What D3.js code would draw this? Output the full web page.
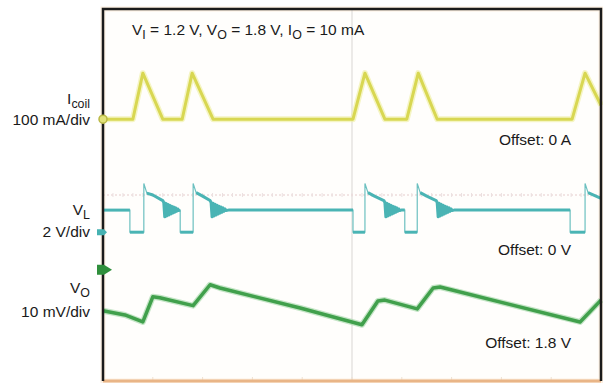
<!DOCTYPE html>
<html>
<head>
<meta charset="utf-8">
<script src="https://cdn.jsdelivr.net/npm/d3@7"></script>
<style>
  body { margin: 0; background: #fff; }
  text { font-family: "Liberation Sans", Arial, sans-serif; fill: #1a1a1a; }
</style>
</head>
<body>
<script>
// time in scope divisions (10 across), values in channel units
var iCoil = [ // [div, mA]
  [0, 0], [0.60, 0], [0.80, 99], [1.20, 0], [1.59, 0], [1.79, 99], [2.21, 0],
  [5.02, 0], [5.26, 99], [5.66, 0], [6.10, 0], [6.33, 99], [6.71, 0],
  [9.42, 0], [9.68, 99], [10, 30]
];

var vL = [ // [div, V]
  [0, 0.95], [0.54, 0.95], [0.54, 0], [0.82, 0], [0.82, 2.1], [0.88, 1.68], [1.0, 1.6], [1.20, 1.36],
  [1.22, 1.28], [1.24, 0.66], [1.26, 1.24], [1.28, 0.70], [1.30, 1.20], [1.32, 0.74], [1.34, 1.16], [1.36, 0.78],
  [1.38, 1.12], [1.40, 0.82], [1.42, 1.08], [1.44, 0.86], [1.46, 1.04], [1.48, 0.90], [1.50, 1.00], [1.52, 0.93], [1.55, 0.95],
  [1.55, 0], [1.81, 0], [1.81, 2.1], [1.87, 1.7], [2.0, 1.55], [2.15, 1.36],
  [2.17, 1.28], [2.19, 0.66], [2.21, 1.24], [2.23, 0.70], [2.25, 1.20], [2.27, 0.74], [2.29, 1.16], [2.31, 0.78],
  [2.33, 1.12], [2.35, 0.82], [2.37, 1.08], [2.39, 0.86], [2.41, 1.04], [2.43, 0.90], [2.45, 1.00], [2.47, 0.93], [2.52, 0.95],
  [5.02, 0.95], [5.02, 0], [5.26, 0], [5.26, 2.1], [5.32, 1.7], [5.45, 1.55], [5.64, 1.36],
  [5.66, 1.28], [5.68, 0.66], [5.70, 1.24], [5.72, 0.70], [5.74, 1.20], [5.76, 0.74], [5.78, 1.16], [5.80, 0.78],
  [5.82, 1.12], [5.84, 0.82], [5.86, 1.08], [5.88, 0.86], [5.90, 1.04], [5.92, 0.90], [5.94, 1.00], [5.96, 0.93], [5.99, 0.95],
  [6.06, 0.95], [6.06, 0], [6.31, 0], [6.31, 2.1], [6.37, 1.7], [6.5, 1.55], [6.69, 1.36],
  [6.71, 1.28], [6.73, 0.66], [6.75, 1.24], [6.77, 0.70], [6.79, 1.20], [6.81, 0.74], [6.83, 1.16], [6.85, 0.78],
  [6.87, 1.12], [6.89, 0.82], [6.91, 1.08], [6.93, 0.86], [6.95, 1.04], [6.97, 0.90], [6.99, 1.00], [7.01, 0.93], [7.05, 0.95],
  [9.38, 0.95], [9.38, 0], [9.68, 0], [9.68, 2.1], [9.74, 1.7], [10, 1.46]
];

var vO = [ // [div, mV around the 1.8 V offset]
  [0, -8.8], [0.44, -9.7], [0.80, -11.2], [1.0, -5.8], [1.14, -6.0], [1.81, -7.7],
  [2.15, -3.2], [2.35, -3.9], [3.96, -8.2], [5.20, -11.8], [5.52, -6.7], [5.66, -6.5],
  [6.31, -8.4], [6.63, -3.9], [6.77, -3.7], [9.58, -11.2], [10, -6.5]
];

var labelsLeft = [
  { main: "I", sub: "coil", y: 1.95 },
  { main: "100 mA/div", sub: "", y: 1.50 },
  { main: "V", sub: "L", y: -0.43 },
  { main: "2 V/div", sub: "", y: -0.91 },
  { main: "V", sub: "O", y: -2.11 },
  { main: "10 mV/div", sub: "", y: -2.62 }
];
var offsets = [
  { text: "Offset: 0 A", y: 1.08 },
  { text: "Offset: 0 V", y: -1.29 },
  { text: "Offset: 1.8 V", y: -3.28 }
];

var W = 603, H = 383;
var svg = d3.select("body").append("svg").attr("width", W).attr("height", H);

var x = d3.scaleLinear().domain([0, 10]).range([103, 601]);
var y = d3.scaleLinear().domain([-4, 4]).range([381, 9]);

// channel scales: reference position (div) and units per div
var yI = d3.scaleLinear().domain([0, 100]).range([y(1.63), y(2.63)]);
var yV = d3.scaleLinear().domain([0, 2]).range([y(-0.80), y(0.20)]);
var yO = d3.scaleLinear().domain([0, 10]).range([y(-1.61), y(-0.61)]);

// screen
svg.append("rect")
  .attr("x", x(0)).attr("y", y(4))
  .attr("width", x(10) - x(0)).attr("height", y(-4) - y(4))
  .attr("fill", "#fffefc")
  .attr("stroke", "#fdf0e2").attr("stroke-width", 5);

// graticule center lines
svg.append("line")
  .attr("x1", x(5)).attr("x2", x(5)).attr("y1", y(4)).attr("y2", y(-4))
  .attr("stroke", "#d9d6d3").attr("stroke-width", 1);
svg.append("line")
  .attr("x1", x(0)).attr("x2", x(10)).attr("y1", y(0)).attr("y2", y(0))
  .attr("stroke", "#e6cccc").attr("stroke-width", 1).attr("stroke-dasharray", "2,2");

svg.selectAll(".tk").data(d3.range(0, 10.01, 0.2)).enter().append("line")
  .attr("x1", function(d) { return x(d); }).attr("x2", function(d) { return x(d); })
  .attr("y1", y(0) - 2).attr("y2", y(0) + 2)
  .attr("stroke", "#ebe0e0").attr("stroke-width", 1);
svg.selectAll(".tkb").data(d3.range(0, 10.01, 1)).enter().append("line")
  .attr("x1", function(d) { return x(d); }).attr("x2", function(d) { return x(d); })
  .attr("y1", y(-4) - 4).attr("y2", y(-4))
  .attr("stroke", "#efe0d0").attr("stroke-width", 1);

// traces
var lineI = d3.line().x(function(d) { return x(d[0]); }).y(function(d) { return yI(d[1]); });
var lineV = d3.line().x(function(d) { return x(d[0]); }).y(function(d) { return yV(d[1]); });
var lineO = d3.line().x(function(d) { return x(d[0]); }).y(function(d) { return yO(d[1]); });

svg.append("path").attr("d", lineI(iCoil)).attr("fill", "none")
  .attr("stroke", "#eeee9e").attr("stroke-width", 6).attr("stroke-linejoin", "round").attr("opacity", 0.6);
svg.append("path").attr("d", lineI(iCoil)).attr("fill", "none")
  .attr("stroke", "#d8d752").attr("stroke-width", 3).attr("stroke-linejoin", "round");

// V_L: thin full trace, thick on the non-vertical parts
svg.append("path").attr("d", lineV(vL)).attr("fill", "none")
  .attr("stroke", "#6cc0c0").attr("stroke-width", 1.2);
var segs = [], cur = [];
vL.forEach(function(d, i) {
  if (i > 0 && d[0] === vL[i - 1][0]) { segs.push(cur); cur = []; }
  cur.push(d);
});
segs.push(cur);
segs.forEach(function(s) {
  var pts = (s.length > 1 && s[0][1] > 2) ? s.slice(1) : s;
  svg.append("path").attr("d", lineV(pts)).attr("fill", "none")
    .attr("stroke", "#4ab4b4").attr("stroke-width", 3).attr("stroke-linejoin", "round");
});

svg.append("path").attr("d", lineO(vO)).attr("fill", "none")
  .attr("stroke", "#8ccd92").attr("stroke-width", 6).attr("stroke-linejoin", "round").attr("opacity", 0.5);
svg.append("path").attr("d", lineO(vO)).attr("fill", "none")
  .attr("stroke", "#41a04c").attr("stroke-width", 3.5).attr("stroke-linejoin", "round");

// frame
svg.append("line").attr("x1", x(0)).attr("x2", x(10)).attr("y1", y(-4)).attr("y2", y(-4))
  .attr("stroke", "#e9b587").attr("stroke-width", 3);
svg.append("path")
  .attr("d", "M" + x(0) + "," + y(-4) + "V" + y(4) + "H" + x(10) + "V" + y(-4))
  .attr("fill", "none").attr("stroke", "#1b1b1b").attr("stroke-width", 2.5);

// channel markers
svg.append("circle").attr("cx", x(0)).attr("cy", yI(0)).attr("r", 4)
  .attr("fill", "#e2e27a").attr("stroke", "#b9b845").attr("stroke-width", 1.5);
svg.append("path")
  .attr("d", "M" + (x(0) - 6) + "," + (yV(0) - 3) + "h7l3,3l-3,3h-7z")
  .attr("fill", "#46b2b2");
svg.append("path")
  .attr("d", "M" + (x(0) - 6) + "," + (yO(0) - 5) + "h7l8,5l-8,5h-7z")
  .attr("fill", "#2f8f3c");

// labels
var fs = 15.5;
function rich(xPos, yPos, anchor, parts) {
  var tx = svg.append("text").attr("x", xPos).attr("y", yPos)
    .attr("text-anchor", anchor).attr("font-size", fs);
  parts.forEach(function(p) {
    var s = tx.append("tspan").text(p[0]);
    if (p[1] === "sub") s.attr("font-size", fs * 0.8).attr("dy", 4);
    if (p[1] === "up") s.attr("dy", -4);
  });
  return tx;
}

labelsLeft.forEach(function(l) {
  var parts = [[l.main, ""]];
  if (l.sub) parts.push([l.sub, "sub"]);
  rich(90, y(l.y), "end", parts);
});

rich(132, 35, "start", [
  ["V", ""], ["I", "sub"], [" = 1.2 V, V", "up"], ["O", "sub"], [" = 1.8 V, I", "up"], ["O", "sub"], [" = 10 mA", "up"]
]);

offsets.forEach(function(o) {
  svg.append("text").attr("x", 571).attr("y", y(o.y))
    .attr("text-anchor", "end").attr("font-size", fs).text(o.text);
});
</script>
</body>
</html>
